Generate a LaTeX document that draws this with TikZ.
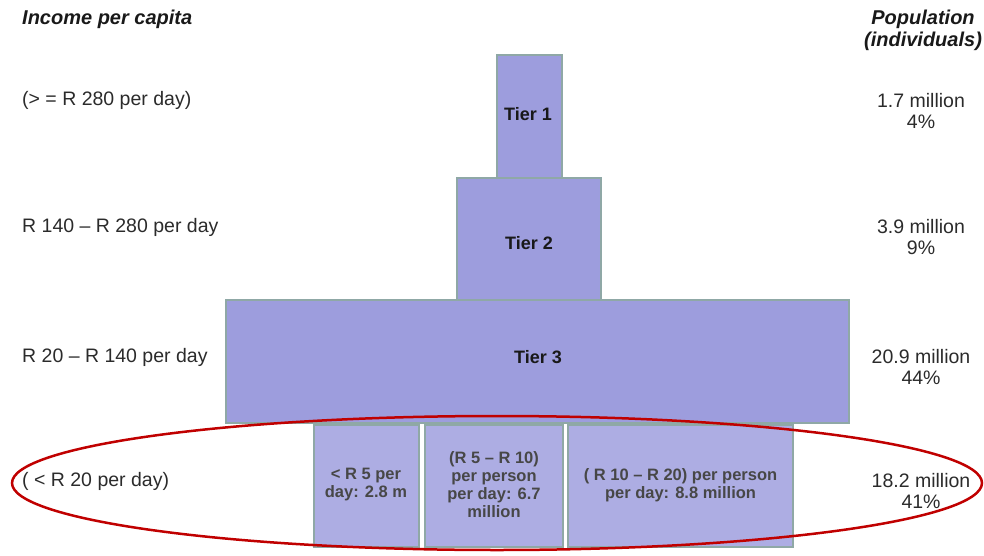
\documentclass[tikz,border=0pt]{standalone}
\usepackage{fontspec}
\setmainfont{Liberation Sans}
\definecolor{tierfill}{HTML}{9D9DDD}
\definecolor{subfill}{HTML}{ADADE3}
\definecolor{boxline}{HTML}{8FA8A6}
\definecolor{txt}{HTML}{2B2B2B}
\definecolor{ringred}{HTML}{C00000}
\tikzset{
  tierbox/.style={draw=boxline, line width=2pt, fill=tierfill, rectangle, inner sep=0pt},
  tierlbl/.style={inner sep=0pt, font=\fontsize{18}{20}\selectfont\bfseries, text=black!90},
  subbox/.style={draw=boxline, line width=2pt, fill=subfill, rectangle, inner sep=0pt},
  sublbl/.style={inner sep=0pt, align=center, font=\fontsize{16.5}{18}\selectfont\bfseries, text=black!72},
  lefttxt/.style={anchor=west, inner sep=0pt, font=\fontsize{19.5}{21}\selectfont, text=txt},
  righttxt/.style={anchor=center, inner sep=0pt, align=center, font=\fontsize{19.5}{21}\selectfont, text=txt},
  headtxt/.style={inner sep=0pt, font=\fontsize{20}{22}\selectfont\bfseries\itshape, text=black!90}
}
\begin{document}
\begin{tikzpicture}[x=1pt,y=-1pt]
\useasboundingbox (0,0) rectangle (984,556);
% tiers
\node[tierbox, minimum width=65pt, minimum height=123pt] (t1) at (529.5,116.5) {};
\node[tierbox, minimum width=144pt, minimum height=122pt] (t2) at (529,239) {};
\node[tierbox, minimum width=623pt, minimum height=123pt] (t3) at (537.5,361.5) {};
\node[tierlbl] (t1l) at (528,114) {Tier 1};
\node[tierlbl] (t2l) at (529,243) {Tier 2};
\node[tierlbl] (t3l) at (538,357) {Tier 3};
% sub boxes
\node[subbox, minimum width=105pt, minimum height=122pt] (b1) at (366,486) {};
\node[subbox, minimum width=138pt, minimum height=122pt] (b2) at (494,486) {};
\node[subbox, minimum width=225pt, minimum height=122pt] (b3) at (680.5,486) {};
\node[sublbl] (b1l) at (366,485) {< R 5 per\\day: 2.8 m};
\node[sublbl] (b2l) at (494,485) {(R 5 -- R 10)\\per person\\per day: 6.7\\million};
\node[sublbl] (b3l) at (680.5,485) {( R 10 -- R 20) per person\\per day: 8.8 million};
% headers
\node[headtxt, anchor=west] (hl) at (22,19) {Income per capita};
\node[headtxt, align=center] (hr) at (923,30) {Population\\(individuals)};
% left labels
\node[lefttxt] (l1) at (22,100) {(> = R 280 per day)};
\node[lefttxt] (l2) at (22,227) {R 140 -- R 280 per day};
\node[lefttxt] (l3) at (22,357) {R 20 -- R 140 per day};
\node[lefttxt] (l4) at (22,481) {( < R 20 per day)};
% right labels
\node[righttxt] (r1) at (921,110.5) {1.7 million\\4\%};
\node[righttxt] (r2) at (921,237.5) {3.9 million\\9\%};
\node[righttxt] (r3) at (921,366.5) {20.9 million\\44\%};
\node[righttxt] (r4) at (921,490.5) {18.2 million\\41\%};
% ellipse
\draw[ringred, line width=2.5pt] (497,483) ellipse [x radius=485, y radius=67];
\end{tikzpicture}
\end{document}
